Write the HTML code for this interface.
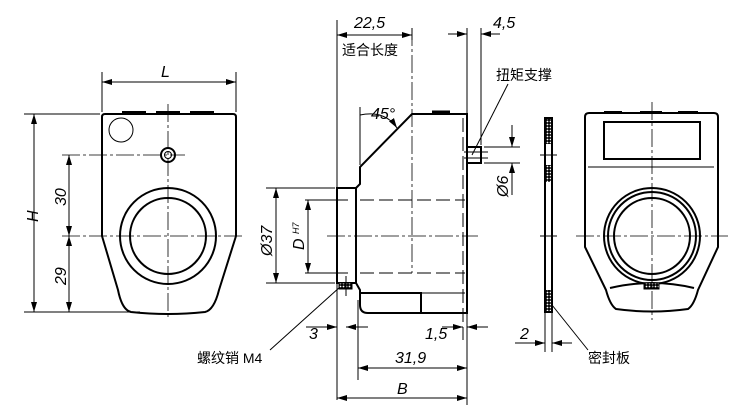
<!DOCTYPE html>
<html><head><meta charset="utf-8"><style>
html,body{margin:0;padding:0;background:#fff;}
svg{display:block;}
text{font-family:"Liberation Sans","Noto Sans CJK SC",sans-serif;fill:#000;}
.t{font-size:16px;font-style:italic;}
.c{font-size:14px;}
</style></head><body>
<svg width="750" height="412" viewBox="0 0 750 412" xmlns="http://www.w3.org/2000/svg">
<defs>
<marker id="a" viewBox="0 0 10 6" refX="10" refY="3" markerWidth="10" markerHeight="6" orient="auto-start-reverse" markerUnits="userSpaceOnUse"><path d="M0,0L10,3L0,6z" fill="#000"/></marker>
<pattern id="x" width="3" height="3" patternUnits="userSpaceOnUse"><rect width="3" height="3" fill="#000"/><circle cx="1.5" cy="1.5" r="0.9" fill="#fff"/></pattern>
</defs>
<g fill="none" stroke="#000" stroke-width="1">
<!-- LEFT VIEW -->
<path d="M102,236 V117 Q102,114 105,114 H233 Q236,114 236,117 V236 L219,290 Q214,310 205,312 Q168,316 131,312 Q122,310 118,290 Z" stroke-width="2"/>
<path d="M122,112H146M156,112H180M190,112H214" stroke-width="2"/>
<circle cx="121" cy="130" r="12"/>
<circle cx="168" cy="155" r="7" stroke-width="2"/><circle cx="168" cy="155" r="3.5"/>
<circle cx="168" cy="236" r="48" stroke-width="2"/><circle cx="168" cy="236" r="38" stroke-width="2"/>
<path d="M168,104V318" stroke-dasharray="18,3,3,3" stroke-width="0.8"/>
<path d="M62,155H185M62,236H242" stroke-dasharray="18,3,3,3" stroke-width="0.8"/>
<path d="M102,72V112M236,72V112M24,114H100M24,312H140"/>
<path d="M102,82H236" marker-start="url(#a)" marker-end="url(#a)"/>
<path d="M34,114V312" marker-start="url(#a)" marker-end="url(#a)"/>
<path d="M69,155V236" marker-start="url(#a)" marker-end="url(#a)"/>
<path d="M69,236V312" marker-start="url(#a)" marker-end="url(#a)"/>
<!-- MIDDLE VIEW -->
<path d="M337,188H356V283H337Z" stroke-width="2"/>
<path d="M356,188L360,184V167L412,114H467V313H368Q360,313 360,305V290L356,283" stroke-width="2"/>
<path d="M432,112H450" stroke-width="3"/>
<path d="M360,293H421V313" stroke-width="2"/>
<path d="M421,293H465"/>
<path d="M360,200H465M360,273H465" stroke-dasharray="14,5" stroke-width="1"/>
<path d="M463,118V340" stroke-dasharray="14,5"/>
<path d="M327,236H478M412,28V273" stroke-dasharray="18,3,3,3" stroke-width="0.8"/>
<rect x="467" y="147" width="14" height="16" stroke-width="2"/>
<path d="M464,152H488M464,158H488"/>
<rect x="339" y="283" width="13" height="6" fill="url(#x)"/>
<path d="M346,276V296"/>
<!-- dims -->
<path d="M337,20V400M358,300V380M467,28V405M481,28V145M412,28V40"/>
<path d="M337,35H412" marker-start="url(#a)" marker-end="url(#a)"/>
<path d="M448,34H467" marker-end="url(#a)"/><path d="M481,34H500" marker-start="url(#a)"/>
<path d="M484,147H520M484,163H520"/>
<path d="M512,125V147" marker-end="url(#a)"/><path d="M512,163V195" marker-start="url(#a)"/>
<path d="M266,188H335M266,283H335M305,200H348M305,273H348"/>
<path d="M276,188V283" marker-start="url(#a)" marker-end="url(#a)"/>
<path d="M308,200V273" marker-start="url(#a)" marker-end="url(#a)"/>
<path d="M306,327H337" marker-end="url(#a)"/><path d="M346,327H368" marker-start="url(#a)"/>
<path d="M442,327H463" marker-end="url(#a)"/><path d="M467,327H488" marker-start="url(#a)"/>
<path d="M358,368H467" marker-start="url(#a)" marker-end="url(#a)"/>
<path d="M337,398H467" marker-start="url(#a)" marker-end="url(#a)"/>
<path d="M360,115Q385,110 397,128" marker-end="url(#a)"/>
<path d="M360,107V165"/>
<path d="M340,287L270,350"/>
<path d="M472,155L508,84"/>
<!-- SEAL -->
<rect x="545" y="118" width="7" height="194" stroke-width="2"/>
<rect x="546" y="119" width="5" height="25" fill="url(#x)" stroke="none"/>
<rect x="546" y="165" width="5" height="17" fill="url(#x)" stroke="none"/>
<rect x="546" y="290" width="5" height="21" fill="url(#x)" stroke="none"/>
<path d="M540,155H557M540,236H557M545,312V352M552,312V352"/>
<path d="M515,343H545" marker-end="url(#a)"/><path d="M552,343H572" marker-start="url(#a)"/>
<path d="M552,305L588,350"/>
<!-- RIGHT VIEW -->
<path d="M585,247V117Q585,113 589,113H714Q718,113 718,117V247L698,290Q694,305 688,309Q652,314 616,309Q610,305 606,290Z" stroke-width="2"/>
<path d="M604,112H622M640,112H662M678,112H698" stroke-width="2"/>
<rect x="604" y="122" width="96" height="37" stroke-width="2"/>
<path d="M588,167H714"/>
<circle cx="652" cy="236" r="48" stroke-width="2"/><circle cx="652" cy="236" r="44" stroke-width="2"/><circle cx="652" cy="236" r="38" stroke-width="2"/>
<path d="M610,288Q652,278 694,288" stroke-width="2"/>
<rect x="644" y="283" width="15" height="6" fill="url(#x)"/>
<path d="M652,102V320M576,236H728" stroke-dasharray="18,3,3,3" stroke-width="0.8"/>
</g>
<text class="t" x="161" y="77">L</text>
<text class="t" transform="translate(38,222) rotate(-90)">H</text>
<text class="t" transform="translate(66,206) rotate(-90)">30</text>
<text class="t" transform="translate(66,285) rotate(-90)">29</text>
<text class="t" x="354" y="28">22,5</text>
<text class="c" x="342" y="55">适合长度</text>
<text class="t" x="493" y="28">4,5</text>
<text class="c" x="496" y="80">扭矩支撑</text>
<text class="t" transform="translate(508,197) rotate(-90)">Ø6</text>
<text class="t" x="371" y="119">45°</text>
<text class="t" transform="translate(272,256) rotate(-90)">Ø37</text>
<text class="t" transform="translate(304,250) rotate(-90)">D <tspan font-size="9" dy="-5">H7</tspan></text>
<text class="t" x="309" y="339">3</text>
<text class="t" x="425" y="339">1,5</text>
<text class="t" x="395" y="363">31,9</text>
<text class="t" x="397" y="394">B</text>
<text class="t" x="520" y="339">2</text>
<text class="c" x="197" y="363">螺纹销 M4</text>
<text class="c" x="588" y="363">密封板</text>
</svg>
</body></html>
